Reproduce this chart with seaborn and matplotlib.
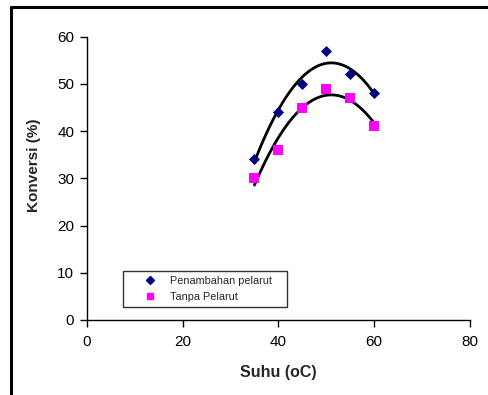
import matplotlib
matplotlib.use("Agg")
import matplotlib.pyplot as plt
import seaborn as sns
import pandas as pd
from matplotlib.lines import Line2D

suhu = [35, 40, 45, 50, 55, 60]
penambahan = [34, 44, 50, 57, 52, 48]
tanpa = [30, 36, 45, 49, 47, 41]
x_ticks = [0, 20, 40, 60, 80]
y_ticks = [0, 10, 20, 30, 40, 50, 60]

sns.set_style("ticks")
plt.rcParams['font.family'] = ['Liberation Sans', 'DejaVu Sans']

fig = plt.figure(figsize=(4.88, 3.95), dpi=100)
ax = fig.add_axes([0.178, 0.190, 0.785, 0.717])

for ys in (penambahan, tanpa):
    sns.regplot(x=suhu, y=ys, order=2, ci=None, scatter=False, ax=ax,
                line_kws=dict(color="black", lw=2))

sns.scatterplot(x=suhu, y=penambahan, color="#000080", marker="D", s=32,
                linewidth=0, ax=ax, zorder=3, legend=False)
sns.scatterplot(x=suhu, y=tanpa, color="#FF00FF", marker="s", s=45,
                linewidth=0, ax=ax, zorder=3, legend=False)

ax.set_xlim(0, 80)
ax.set_ylim(0, 60)
ax.set_xticks(x_ticks)
ax.set_yticks(y_ticks)
ax.tick_params(axis="both", direction="out", length=5, width=1, labelsize=11,
               colors="black", pad=4, bottom=True, left=True)
ax.tick_params(axis="x", pad=6)
for s in ["top", "right"]:
    ax.spines[s].set_visible(False)
for s in ["left", "bottom"]:
    ax.spines[s].set_color("black")
    ax.spines[s].set_linewidth(1)
ax.set_xlabel("Suhu (oC)", fontsize=11.5, fontweight="bold")
ax.xaxis.set_label_coords(0.5, -0.16)
ax.set_ylabel("Konversi (%)", fontsize=11, fontweight="bold")
ax.yaxis.set_label_coords(-0.12, 0.547)

handles = [Line2D([], [], marker="D", color="#000080", ls="none", markersize=4.5),
           Line2D([], [], marker="s", color="#FF00FF", ls="none", markersize=5)]
leg = ax.legend(handles, ["Penambahan pelarut", "Tanpa Pelarut"],
                loc="lower left", bbox_to_anchor=(0.094, 0.046, 0.428, 0.138),
                mode="expand", fontsize=7.8, frameon=True, fancybox=False,
                borderaxespad=0, handletextpad=-0.2, handlelength=4.08,
                labelspacing=0.6, borderpad=0.45)
leg.get_frame().set_edgecolor("black")
leg.get_frame().set_linewidth(1)

fig.add_artist(Line2D([0.0225, 1.0], [0.982, 0.982], color="black", lw=2.2,
                      transform=fig.transFigure))
fig.add_artist(Line2D([0.0225, 0.0225], [0.0, 0.982], color="black", lw=2.2,
                      transform=fig.transFigure))

fig.savefig("out.png", dpi=100)
